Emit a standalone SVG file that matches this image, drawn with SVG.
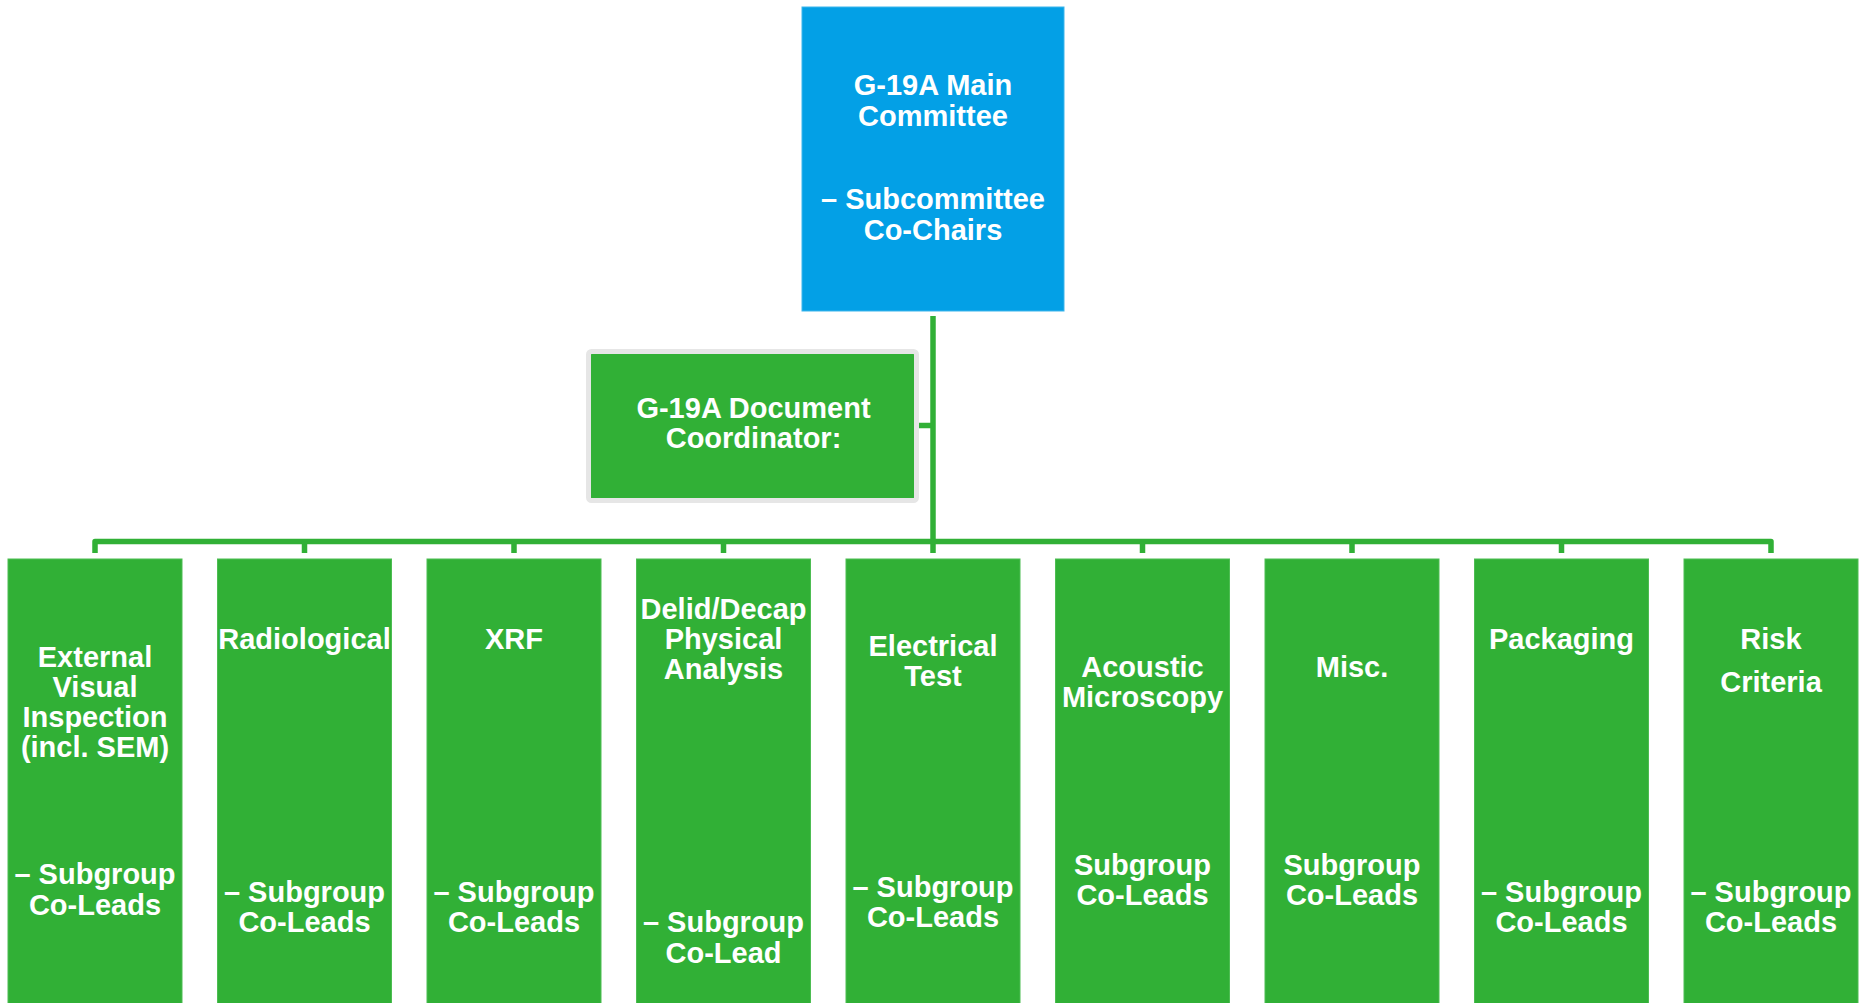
<svg xmlns="http://www.w3.org/2000/svg" width="1859" height="1003" viewBox="0 0 1859 1003">
  <style>
    .t { font-family: "Liberation Sans", Arial, sans-serif; font-weight: bold; font-size: 29px; fill: #FFFFFF; text-anchor: middle; }
    .g { fill: #31B036; stroke: #4DBD52; stroke-width: 1; }
    .c { fill: none; stroke: #31B036; stroke-width: 5.5; stroke-linejoin: round; }
  </style>
  <rect width="1859" height="1003" fill="#FFFFFF"/>

  <g id="connectors">
    <path class="c" d="M933,316 V553"/>
    <path class="c" d="M919,425.5 H933"/>
    <path class="c" d="M95,553 V541.5 H1771 V553"/>
    <path class="c" d="M304.5,541.5 V553 M514,541.5 V553 M723.5,541.5 V553 M1142.5,541.5 V553 M1352,541.5 V553 M1561.5,541.5 V553"/>
  </g>

  <g id="main-committee">
    <rect x="802" y="7" width="262" height="304" fill="#03A0E6" stroke="#3DB5EC" stroke-width="1"/>
    <text class="t" x="933" y="95">G-19A Main</text>
    <text class="t" x="933" y="126">Committee</text>
    <text class="t" x="933" y="209">– Subcommittee</text>
    <text class="t" x="933" y="240">Co-Chairs</text>
  </g>

  <g id="document-coordinator">
    <rect x="588.5" y="351.5" width="328" height="149" rx="3" fill="#31B036" stroke="#E6E6E6" stroke-width="5"/>
    <text class="t" x="753.5" y="418">G-19A Document</text>
    <text class="t" x="753.5" y="448">Coordinator:</text>
  </g>

  <g id="external-visual">
    <rect class="g" x="8" y="559" width="174" height="450"/>
    <text class="t" x="95" y="667">External</text>
    <text class="t" x="95" y="697">Visual</text>
    <text class="t" x="95" y="727">Inspection</text>
    <text class="t" x="95" y="757">(incl. SEM)</text>
    <text class="t" x="95" y="884">– Subgroup</text>
    <text class="t" x="95" y="915">Co-Leads</text>
  </g>

  <g id="radiological">
    <rect class="g" x="217.5" y="559" width="174" height="450"/>
    <text class="t" x="304.5" y="649">Radiological</text>
    <text class="t" x="304.5" y="902">– Subgroup</text>
    <text class="t" x="304.5" y="932">Co-Leads</text>
  </g>

  <g id="xrf">
    <rect class="g" x="427" y="559" width="174" height="450"/>
    <text class="t" x="514" y="649">XRF</text>
    <text class="t" x="514" y="902">– Subgroup</text>
    <text class="t" x="514" y="932">Co-Leads</text>
  </g>

  <g id="delid-decap">
    <rect class="g" x="636.5" y="559" width="174" height="450"/>
    <text class="t" x="723.5" y="619">Delid/Decap</text>
    <text class="t" x="723.5" y="649">Physical</text>
    <text class="t" x="723.5" y="679">Analysis</text>
    <text class="t" x="723.5" y="932">– Subgroup</text>
    <text class="t" x="723.5" y="963">Co-Lead</text>
  </g>

  <g id="electrical-test">
    <rect class="g" x="846" y="559" width="174" height="450"/>
    <text class="t" x="933" y="656">Electrical</text>
    <text class="t" x="933" y="686">Test</text>
    <text class="t" x="933" y="897">– Subgroup</text>
    <text class="t" x="933" y="927">Co-Leads</text>
  </g>

  <g id="acoustic-microscopy">
    <rect class="g" x="1055.5" y="559" width="174" height="450"/>
    <text class="t" x="1142.5" y="677">Acoustic</text>
    <text class="t" x="1142.5" y="707">Microscopy</text>
    <text class="t" x="1142.5" y="875">Subgroup</text>
    <text class="t" x="1142.5" y="905">Co-Leads</text>
  </g>

  <g id="misc">
    <rect class="g" x="1265" y="559" width="174" height="450"/>
    <text class="t" x="1352" y="677">Misc.</text>
    <text class="t" x="1352" y="875">Subgroup</text>
    <text class="t" x="1352" y="905">Co-Leads</text>
  </g>

  <g id="packaging">
    <rect class="g" x="1474.5" y="559" width="174" height="450"/>
    <text class="t" x="1561.5" y="649">Packaging</text>
    <text class="t" x="1561.5" y="902">– Subgroup</text>
    <text class="t" x="1561.5" y="932">Co-Leads</text>
  </g>

  <g id="risk-criteria">
    <rect class="g" x="1684" y="559" width="174" height="450"/>
    <text class="t" x="1771" y="649">Risk</text>
    <text class="t" x="1771" y="692">Criteria</text>
    <text class="t" x="1771" y="902">– Subgroup</text>
    <text class="t" x="1771" y="932">Co-Leads</text>
  </g>
</svg>
